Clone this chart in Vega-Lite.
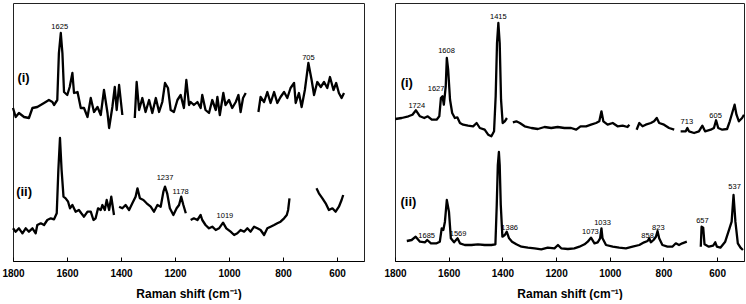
{
  "$schema": "https://vega.github.io/schema/vega-lite/v6.json",
  "padding": {"left": 1, "top": 2, "right": 0, "bottom": 0},
  "background": "white",
  "config": {
    "view": {"stroke": "#222", "strokeWidth": 1},
    "font": "Liberation Sans",
    "axisX": {
      "values": [1800, 1700, 1600, 1500, 1400, 1300, 1200, 1100, 1000, 900, 800, 700, 600],
      "labelExpr": "datum.value % 200 == 0 ? datum.label : ''",
      "format": "d",
      "tickSize": -4,
      "labelPadding": 11,
      "labelFlush": false,
      "labelOverlap": false,
      "labelFont": "Liberation Sans",
      "labelFontWeight": "bold",
      "labelFontSize": 10,
      "labelColor": "black",
      "tickColor": "black",
      "domainColor": "black",
      "grid": false,
      "titleFont": "Liberation Sans",
      "titleFontSize": 12,
      "titleFontWeight": "bold",
      "titleColor": "black",
      "titlePadding": 10
    }
  },
  "bounds": "flush",
  "spacing": 31,
  "datasets": {
    "leftLine": [
      {"x":1800,"y":153,"s":"a1"},{"x":1790,"y":144,"s":"a1"},{"x":1778,"y":148,"s":"a1"},{"x":1759,"y":144,"s":"a1"},{"x":1741,"y":143,"s":"a1"},{"x":1728,"y":153,"s":"a1"},{"x":1710,"y":154,"s":"a1"},{"x":1685,"y":158,"s":"a1"},{"x":1667,"y":161,"s":"a1"},{"x":1654,"y":159,"s":"a1"},{"x":1648,"y":156,"s":"a1"},{"x":1636,"y":161,"s":"a1"},{"x":1630,"y":208,"s":"a1"},{"x":1623,"y":228,"s":"a1"},{"x":1617,"y":208,"s":"a1"},{"x":1611,"y":169,"s":"a1"},{"x":1599,"y":166,"s":"a1"},{"x":1590,"y":174,"s":"a1"},{"x":1580,"y":188,"s":"a1"},{"x":1574,"y":168,"s":"a1"},{"x":1561,"y":169,"s":"a1"},{"x":1549,"y":153,"s":"a1"},{"x":1537,"y":153,"s":"a1"},{"x":1524,"y":144,"s":"a1"},{"x":1512,"y":163,"s":"a1"},{"x":1500,"y":149,"s":"a1"},{"x":1487,"y":154,"s":"a1"},{"x":1475,"y":146,"s":"a1"},{"x":1463,"y":171,"s":"a1"},{"x":1450,"y":148,"s":"a1"},{"x":1444,"y":133,"s":"a1"},{"x":1432,"y":154,"s":"a1"},{"x":1423,"y":174,"s":"a1"},{"x":1416,"y":151,"s":"a1"},{"x":1407,"y":176,"s":"a1"},{"x":1395,"y":146,"s":"a1"},
      {"x":1349,"y":143,"s":"a2"},{"x":1342,"y":179,"s":"a2"},{"x":1333,"y":151,"s":"a2"},{"x":1321,"y":163,"s":"a2"},{"x":1309,"y":149,"s":"a2"},{"x":1296,"y":161,"s":"a2"},{"x":1284,"y":148,"s":"a2"},{"x":1271,"y":163,"s":"a2"},{"x":1259,"y":149,"s":"a2"},{"x":1247,"y":159,"s":"a2"},{"x":1237,"y":178,"s":"a2"},{"x":1226,"y":173,"s":"a2"},{"x":1216,"y":151,"s":"a2"},{"x":1204,"y":149,"s":"a2"},{"x":1191,"y":161,"s":"a2"},{"x":1179,"y":166,"s":"a2"},{"x":1167,"y":153,"s":"a2"},{"x":1158,"y":181,"s":"a2"},{"x":1148,"y":156,"s":"a2"},{"x":1142,"y":159,"s":"a2"},{"x":1130,"y":156,"s":"a2"},{"x":1117,"y":159,"s":"a2"},{"x":1105,"y":153,"s":"a2"},{"x":1099,"y":166,"s":"a2"},{"x":1087,"y":151,"s":"a2"},{"x":1074,"y":148,"s":"a2"},{"x":1062,"y":161,"s":"a2"},{"x":1049,"y":151,"s":"a2"},{"x":1043,"y":164,"s":"a2"},{"x":1034,"y":146,"s":"a2"},{"x":1021,"y":168,"s":"a2"},{"x":1013,"y":156,"s":"a2"},{"x":1000,"y":161,"s":"a2"},{"x":988,"y":153,"s":"a2"},{"x":975,"y":159,"s":"a2"},{"x":965,"y":166,"s":"a2"},{"x":957,"y":149,"s":"a2"},{"x":948,"y":163,"s":"a2"},{"x":938,"y":168,"s":"a2"},
      {"x":891,"y":149,"s":"a3"},{"x":883,"y":164,"s":"a3"},{"x":870,"y":159,"s":"a3"},{"x":858,"y":169,"s":"a3"},{"x":846,"y":158,"s":"a3"},{"x":833,"y":169,"s":"a3"},{"x":821,"y":158,"s":"a3"},{"x":809,"y":164,"s":"a3"},{"x":796,"y":169,"s":"a3"},{"x":784,"y":163,"s":"a3"},{"x":772,"y":173,"s":"a3"},{"x":759,"y":178,"s":"a3"},{"x":753,"y":158,"s":"a3"},{"x":741,"y":168,"s":"a3"},{"x":731,"y":154,"s":"a3"},{"x":719,"y":171,"s":"a3"},{"x":706,"y":198,"s":"a3"},{"x":694,"y":181,"s":"a3"},{"x":685,"y":166,"s":"a3"},{"x":673,"y":179,"s":"a3"},{"x":660,"y":174,"s":"a3"},{"x":648,"y":179,"s":"a3"},{"x":636,"y":173,"s":"a3"},{"x":626,"y":184,"s":"a3"},{"x":613,"y":171,"s":"a3"},{"x":603,"y":178,"s":"a3"},{"x":593,"y":168,"s":"a3"},{"x":583,"y":163,"s":"a3"},{"x":574,"y":168,"s":"a3"},
      {"x":1800,"y":32.7,"s":"b1"},{"x":1790,"y":29.3,"s":"b1"},{"x":1778,"y":32.7,"s":"b1"},{"x":1765,"y":27.7,"s":"b1"},{"x":1753,"y":32.7,"s":"b1"},{"x":1741,"y":29.3,"s":"b1"},{"x":1728,"y":32.7,"s":"b1"},{"x":1716,"y":27.7,"s":"b1"},{"x":1710,"y":36,"s":"b1"},{"x":1697,"y":37.7,"s":"b1"},{"x":1685,"y":36,"s":"b1"},{"x":1673,"y":41,"s":"b1"},{"x":1660,"y":42.7,"s":"b1"},{"x":1648,"y":41.7,"s":"b1"},{"x":1638,"y":47.7,"s":"b1"},{"x":1632,"y":91,"s":"b1"},{"x":1626,"y":123,"s":"b1"},{"x":1620,"y":91,"s":"b1"},{"x":1613,"y":64.3,"s":"b1"},{"x":1605,"y":62.7,"s":"b1"},{"x":1596,"y":59.3,"s":"b1"},{"x":1589,"y":52.7,"s":"b1"},{"x":1580,"y":56,"s":"b1"},{"x":1568,"y":49.3,"s":"b1"},{"x":1556,"y":51,"s":"b1"},{"x":1547,"y":47.7,"s":"b1"},{"x":1537,"y":44.3,"s":"b1"},{"x":1524,"y":49.3,"s":"b1"},{"x":1512,"y":49.3,"s":"b1"},{"x":1502,"y":41,"s":"b1"},{"x":1494,"y":42.7,"s":"b1"},{"x":1485,"y":52.7,"s":"b1"},{"x":1475,"y":51,"s":"b1"},{"x":1469,"y":56,"s":"b1"},{"x":1460,"y":51,"s":"b1"},{"x":1453,"y":61,"s":"b1"},{"x":1444,"y":51,"s":"b1"},{"x":1436,"y":64.3,"s":"b1"},{"x":1426,"y":46,"s":"b1"},
      {"x":1407,"y":54.3,"s":"b2"},{"x":1395,"y":52.7,"s":"b2"},{"x":1383,"y":56,"s":"b2"},{"x":1370,"y":51,"s":"b2"},{"x":1358,"y":57.7,"s":"b2"},{"x":1346,"y":64.3,"s":"b2"},{"x":1339,"y":72.7,"s":"b2"},{"x":1330,"y":62.7,"s":"b2"},{"x":1317,"y":61,"s":"b2"},{"x":1305,"y":57.7,"s":"b2"},{"x":1290,"y":54.3,"s":"b2"},{"x":1278,"y":49.3,"s":"b2"},{"x":1265,"y":56,"s":"b2"},{"x":1253,"y":54.3,"s":"b2"},{"x":1243,"y":69.3,"s":"b2"},{"x":1237,"y":74.3,"s":"b2"},{"x":1229,"y":67.7,"s":"b2"},{"x":1219,"y":52.7,"s":"b2"},{"x":1206,"y":46,"s":"b2"},{"x":1194,"y":52.7,"s":"b2"},{"x":1185,"y":56,"s":"b2"},{"x":1177,"y":64.3,"s":"b2"},{"x":1169,"y":56,"s":"b2"},{"x":1160,"y":47.7,"s":"b2"},
      {"x":1142,"y":41,"s":"b3"},{"x":1130,"y":42.7,"s":"b3"},{"x":1117,"y":41,"s":"b3"},{"x":1105,"y":46,"s":"b3"},{"x":1099,"y":41,"s":"b3"},{"x":1087,"y":36,"s":"b3"},{"x":1074,"y":32.7,"s":"b3"},{"x":1062,"y":34.3,"s":"b3"},{"x":1049,"y":31,"s":"b3"},{"x":1037,"y":32.7,"s":"b3"},{"x":1022,"y":38.3,"s":"b3"},{"x":1010,"y":32.7,"s":"b3"},{"x":994,"y":29.3,"s":"b3"},{"x":981,"y":26,"s":"b3"},{"x":969,"y":27.7,"s":"b3"},{"x":957,"y":31,"s":"b3"},{"x":944,"y":29.3,"s":"b3"},{"x":932,"y":32.7,"s":"b3"},{"x":920,"y":29.3,"s":"b3"},{"x":907,"y":34.3,"s":"b3"},{"x":895,"y":32.7,"s":"b3"},{"x":883,"y":31,"s":"b3"},{"x":870,"y":26,"s":"b3"},{"x":858,"y":32.7,"s":"b3"},{"x":846,"y":34.3,"s":"b3"},{"x":833,"y":36,"s":"b3"},{"x":821,"y":37.7,"s":"b3"},{"x":809,"y":39.3,"s":"b3"},{"x":796,"y":42.7,"s":"b3"},{"x":786,"y":46,"s":"b3"},{"x":781,"y":51,"s":"b3"},{"x":776,"y":62.7,"s":"b3"},
      {"x":676,"y":72.7,"s":"b4"},{"x":667,"y":67.7,"s":"b4"},{"x":654,"y":62.7,"s":"b4"},{"x":642,"y":57.7,"s":"b4"},{"x":630,"y":51,"s":"b4"},{"x":617,"y":52.7,"s":"b4"},{"x":605,"y":49.3,"s":"b4"},{"x":593,"y":54.3,"s":"b4"},{"x":583,"y":61,"s":"b4"},{"x":577,"y":66,"s":"b4"}
    ],
    "leftLab": [
      {"x":1627,"y":234,"t":"1625","k":"p"},
      {"x":706,"y":203,"t":"705","k":"p"},
      {"x":1237,"y":82.7,"t":"1237","k":"p"},
      {"x":1179,"y":69.3,"t":"1178","k":"p"},
      {"x":1015,"y":45,"t":"1019","k":"p"},
      {"x":1761,"y":183,"t":"(i)","k":"t"},
      {"x":1759,"y":69,"t":"(ii)","k":"t"}
    ],
    "rightLine": [
      {"x":1799,"y":142,"s":"c1"},{"x":1775,"y":143,"s":"c1"},{"x":1750,"y":144.7,"s":"c1"},{"x":1735,"y":146.3,"s":"c1"},{"x":1722,"y":150.7,"s":"c1"},{"x":1707,"y":144.7,"s":"c1"},{"x":1691,"y":143,"s":"c1"},{"x":1678,"y":144.7,"s":"c1"},{"x":1663,"y":141.3,"s":"c1"},{"x":1645,"y":141.3,"s":"c1"},{"x":1635,"y":144.7,"s":"c1"},{"x":1629,"y":163,"s":"c1"},{"x":1623,"y":164.7,"s":"c1"},{"x":1618,"y":156.3,"s":"c1"},{"x":1611,"y":174.7,"s":"c1"},{"x":1607,"y":203,"s":"c1"},{"x":1602,"y":191.3,"s":"c1"},{"x":1595,"y":161.3,"s":"c1"},{"x":1587,"y":148,"s":"c1"},{"x":1577,"y":143,"s":"c1"},{"x":1568,"y":143.7,"s":"c1"},{"x":1558,"y":138,"s":"c1"},{"x":1546,"y":136.3,"s":"c1"},{"x":1528,"y":135.3,"s":"c1"},{"x":1509,"y":134.7,"s":"c1"},{"x":1496,"y":138,"s":"c1"},{"x":1484,"y":133,"s":"c1"},{"x":1466,"y":131.3,"s":"c1"},{"x":1453,"y":126.3,"s":"c1"},{"x":1441,"y":124.7,"s":"c1"},{"x":1431,"y":129.7,"s":"c1"},{"x":1425,"y":164.7,"s":"c1"},{"x":1420,"y":218,"s":"c1"},{"x":1415,"y":238,"s":"c1"},{"x":1410,"y":218,"s":"c1"},{"x":1405,"y":161.3,"s":"c1"},{"x":1399,"y":138,"s":"c1"},{"x":1391,"y":139.7,"s":"c1"},{"x":1383,"y":143,"s":"c1"},
      {"x":1361,"y":138.7,"s":"c2"},{"x":1348,"y":139.7,"s":"c2"},{"x":1335,"y":138,"s":"c2"},{"x":1317,"y":134.7,"s":"c2"},{"x":1292,"y":133,"s":"c2"},{"x":1268,"y":132,"s":"c2"},{"x":1243,"y":134,"s":"c2"},{"x":1218,"y":133,"s":"c2"},{"x":1194,"y":134,"s":"c2"},{"x":1169,"y":133,"s":"c2"},{"x":1144,"y":133,"s":"c2"},{"x":1125,"y":131.3,"s":"c2"},{"x":1109,"y":134.7,"s":"c2"},{"x":1088,"y":134.7,"s":"c2"},{"x":1070,"y":136.3,"s":"c2"},{"x":1051,"y":138,"s":"c2"},{"x":1039,"y":139.7,"s":"c2"},{"x":1031,"y":149.7,"s":"c2"},{"x":1024,"y":139.7,"s":"c2"},{"x":1008,"y":136.3,"s":"c2"},{"x":989,"y":138,"s":"c2"},{"x":971,"y":134.7,"s":"c2"},{"x":952,"y":135.3,"s":"c2"},{"x":934,"y":134,"s":"c2"},{"x":927,"y":136.3,"s":"c2"},
      {"x":900,"y":131.3,"s":"c3"},{"x":890,"y":138,"s":"c3"},{"x":878,"y":134.7,"s":"c3"},{"x":866,"y":136.3,"s":"c3"},{"x":847,"y":138,"s":"c3"},{"x":835,"y":139.7,"s":"c3"},{"x":825,"y":143,"s":"c3"},{"x":816,"y":138,"s":"c3"},{"x":798,"y":136.3,"s":"c3"},{"x":779,"y":133,"s":"c3"},{"x":760,"y":131.3,"s":"c3"},
      {"x":736,"y":129.7,"s":"c4"},{"x":717,"y":129.7,"s":"c4"},{"x":711,"y":133,"s":"c4"},{"x":705,"y":129.7,"s":"c4"},{"x":686,"y":128,"s":"c4"},{"x":668,"y":129.7,"s":"c4"},{"x":655,"y":135.3,"s":"c4"},{"x":645,"y":129.7,"s":"c4"},{"x":624,"y":131.3,"s":"c4"},{"x":612,"y":133,"s":"c4"},{"x":604,"y":140.7,"s":"c4"},{"x":596,"y":133,"s":"c4"},{"x":581,"y":131.3,"s":"c4"},{"x":563,"y":132,"s":"c4"},{"x":553,"y":139.7,"s":"c4"},{"x":544,"y":148,"s":"c4"},{"x":535,"y":156.3,"s":"c4"},{"x":528,"y":146.3,"s":"c4"},{"x":519,"y":139.7,"s":"c4"},{"x":507,"y":143,"s":"c4"},{"x":500,"y":146.3,"s":"c4"},
      {"x":1756,"y":20,"s":"d1"},{"x":1738,"y":21,"s":"d1"},{"x":1723,"y":24.3,"s":"d1"},{"x":1707,"y":19.3,"s":"d1"},{"x":1688,"y":18.7,"s":"d1"},{"x":1680,"y":21,"s":"d1"},{"x":1666,"y":17.7,"s":"d1"},{"x":1645,"y":17.7,"s":"d1"},{"x":1633,"y":19.3,"s":"d1"},{"x":1626,"y":32.7,"s":"d1"},{"x":1620,"y":31,"s":"d1"},{"x":1614,"y":39.3,"s":"d1"},{"x":1607,"y":61,"s":"d1"},{"x":1599,"y":49.3,"s":"d1"},{"x":1592,"y":22.7,"s":"d1"},{"x":1580,"y":18.7,"s":"d1"},{"x":1567,"y":22.7,"s":"d1"},{"x":1558,"y":17.7,"s":"d1"},{"x":1540,"y":16,"s":"d1"},{"x":1515,"y":16,"s":"d1"},{"x":1491,"y":16.7,"s":"d1"},{"x":1466,"y":16,"s":"d1"},{"x":1441,"y":16,"s":"d1"},{"x":1426,"y":16.7,"s":"d1"},{"x":1421,"y":56,"s":"d1"},{"x":1417,"y":96,"s":"d1"},{"x":1413,"y":109,"s":"d1"},{"x":1410,"y":96,"s":"d1"},{"x":1406,"y":56,"s":"d1"},{"x":1400,"y":24.3,"s":"d1"},{"x":1391,"y":26,"s":"d1"},{"x":1384,"y":29.3,"s":"d1"},{"x":1375,"y":22.7,"s":"d1"},{"x":1364,"y":19.3,"s":"d1"},{"x":1348,"y":16.7,"s":"d1"},{"x":1329,"y":14.3,"s":"d1"},{"x":1305,"y":13.3,"s":"d1"},{"x":1280,"y":12.7,"s":"d1"},{"x":1255,"y":11.7,"s":"d1"},{"x":1231,"y":13.3,"s":"d1"},{"x":1206,"y":12.7,"s":"d1"},{"x":1193,"y":16,"s":"d1"},{"x":1181,"y":12.7,"s":"d1"},{"x":1156,"y":12,"s":"d1"},{"x":1132,"y":12.7,"s":"d1"},{"x":1113,"y":14.3,"s":"d1"},{"x":1094,"y":16.7,"s":"d1"},{"x":1082,"y":19.3,"s":"d1"},{"x":1070,"y":23.3,"s":"d1"},{"x":1057,"y":17.7,"s":"d1"},{"x":1045,"y":18.7,"s":"d1"},{"x":1036,"y":22.7,"s":"d1"},{"x":1031,"y":32.7,"s":"d1"},{"x":1027,"y":22.7,"s":"d1"},{"x":1014,"y":16,"s":"d1"},{"x":989,"y":14.3,"s":"d1"},{"x":965,"y":13.3,"s":"d1"},{"x":940,"y":12.7,"s":"d1"},{"x":915,"y":14.3,"s":"d1"},{"x":890,"y":16,"s":"d1"},{"x":872,"y":18.7,"s":"d1"},{"x":859,"y":20,"s":"d1"},{"x":853,"y":22.7,"s":"d1"},{"x":847,"y":18.7,"s":"d1"},{"x":837,"y":21,"s":"d1"},{"x":828,"y":24.3,"s":"d1"},{"x":822,"y":30,"s":"d1"},{"x":816,"y":22.7,"s":"d1"},{"x":804,"y":16,"s":"d1"},{"x":785,"y":14.3,"s":"d1"},{"x":767,"y":14.3,"s":"d1"},{"x":754,"y":17.7,"s":"d1"},{"x":742,"y":16,"s":"d1"},{"x":730,"y":17.7,"s":"d1"},{"x":713,"y":19.3,"s":"d1"},
      {"x":661,"y":14.3,"s":"d2"},{"x":658,"y":34.3,"s":"d2"},{"x":652,"y":33.3,"s":"d2"},{"x":647,"y":16.7,"s":"d2"},{"x":631,"y":14.3,"s":"d2"},{"x":615,"y":15.3,"s":"d2"},{"x":607,"y":18.7,"s":"d2"},{"x":601,"y":14.3,"s":"d2"},{"x":588,"y":13.3,"s":"d2"},{"x":570,"y":19.3,"s":"d2"},{"x":554,"y":32.7,"s":"d2"},{"x":546,"y":39.3,"s":"d2"},{"x":539,"y":66,"s":"d2"},{"x":532,"y":39.3,"s":"d2"},{"x":523,"y":17.7,"s":"d2"},{"x":513,"y":13.3,"s":"d2"},{"x":504,"y":11,"s":"d2"}
    ],
    "rightLab": [
      {"x":1415,"y":244,"t":"1415","k":"p"},
      {"x":1608,"y":210,"t":"1608","k":"p"},
      {"x":1647,"y":172,"t":"1627","k":"p"},
      {"x":1719,"y":155,"t":"1724","k":"p"},
      {"x":713,"y":139,"t":"713","k":"p"},
      {"x":606,"y":145,"t":"605","k":"p"},
      {"x":1682,"y":25,"t":"1685","k":"p"},
      {"x":1565,"y":27,"t":"1569","k":"p"},
      {"x":1373,"y":33,"t":"1386","k":"p"},
      {"x":1072,"y":29,"t":"1073","k":"p"},
      {"x":1027,"y":38,"t":"1033","k":"p"},
      {"x":859,"y":25,"t":"858","k":"p"},
      {"x":819,"y":33,"t":"823","k":"p"},
      {"x":655,"y":40,"t":"657","k":"p"},
      {"x":535,"y":74,"t":"537","k":"p"},
      {"x":1756,"y":178,"t":"(i)","k":"t"},
      {"x":1750,"y":59,"t":"(ii)","k":"t"}
    ]
  },
  "hconcat": [
    {
      "width": 351,
      "height": 258,
      "encoding": {
        "x": {"field": "x", "type": "quantitative", "scale": {"domain": [500, 1800], "reverse": true, "nice": false, "zero": false}, "axis": {"title": "Raman shift (cm⁻¹)"}},
        "y": {"field": "y", "type": "quantitative", "scale": {"domain": [0, 258], "nice": false, "zero": false}, "axis": null}
      },
      "layer": [
        {"data": {"name": "leftLine"}, "mark": {"type": "line", "color": "black", "strokeWidth": 2.3, "strokeJoin": "round"}, "encoding": {"detail": {"field": "s"}}},
        {"data": {"name": "leftLab"}, "transform": [{"filter": "datum.k == 'p'"}], "mark": {"type": "text", "fontSize": 7.5, "font": "Liberation Sans", "color": "black", "baseline": "middle"}, "encoding": {"text": {"field": "t"}}},
        {"data": {"name": "leftLab"}, "transform": [{"filter": "datum.k == 't'"}], "mark": {"type": "text", "fontSize": 13, "fontWeight": "bold", "font": "Liberation Sans", "color": "black", "baseline": "middle"}, "encoding": {"text": {"field": "t"}}}
      ]
    },
    {
      "width": 349,
      "height": 258,
      "encoding": {
        "x": {"field": "x", "type": "quantitative", "scale": {"domain": [500, 1800], "reverse": true, "nice": false, "zero": false}, "axis": {"title": "Raman shift (cm⁻¹)"}},
        "y": {"field": "y", "type": "quantitative", "scale": {"domain": [0, 258], "nice": false, "zero": false}, "axis": null}
      },
      "layer": [
        {"data": {"name": "rightLine"}, "mark": {"type": "line", "color": "black", "strokeWidth": 2.3, "strokeJoin": "round"}, "encoding": {"detail": {"field": "s"}}},
        {"data": {"name": "rightLab"}, "transform": [{"filter": "datum.k == 'p'"}], "mark": {"type": "text", "fontSize": 7.5, "font": "Liberation Sans", "color": "black", "baseline": "middle"}, "encoding": {"text": {"field": "t"}}},
        {"data": {"name": "rightLab"}, "transform": [{"filter": "datum.k == 't'"}], "mark": {"type": "text", "fontSize": 13, "fontWeight": "bold", "font": "Liberation Sans", "color": "black", "baseline": "middle"}, "encoding": {"text": {"field": "t"}}}
      ]
    }
  ]
}
